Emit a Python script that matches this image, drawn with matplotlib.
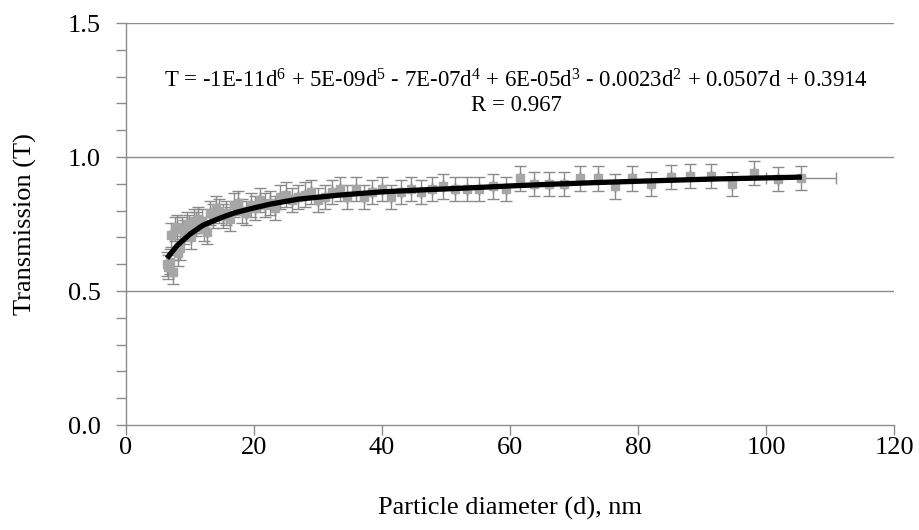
import matplotlib
matplotlib.use("Agg")
import matplotlib.pyplot as plt
from matplotlib.ticker import MultipleLocator

plt.rcParams['font.family'] = ['Liberation Serif', 'DejaVu Serif']
plt.rcParams['mathtext.fontset'] = 'custom'
plt.rcParams['mathtext.rm'] = 'Liberation Serif'
plt.rcParams['mathtext.it'] = 'Liberation Serif:italic'

# Measured data (particle diameter, nm) and transmission
diameter = [6.38, 6.61, 6.85, 7.09, 7.37, 7.64, 7.91, 8.20, 8.51, 8.82, 9.14, 9.47,
            9.82, 10.2, 10.6, 10.9, 11.3, 11.8, 12.2, 12.6, 13.1, 13.6, 14.1, 14.6,
            15.1, 15.7, 16.3, 16.8, 17.5, 18.1, 18.8, 19.5, 20.2, 20.9, 21.7, 22.5,
            23.3, 24.1, 25.0, 25.9, 26.9, 27.9, 28.9, 30.0, 31.1, 32.2, 33.4, 34.6,
            35.9, 37.2, 38.5, 40.0, 41.4, 42.9, 44.5, 46.1, 47.8, 49.6, 51.4, 53.3,
            55.2, 57.3, 59.4, 61.5, 63.8, 66.1, 68.5, 71.0, 73.7, 76.4, 79.1, 82.0,
            85.1, 88.2, 91.4, 94.7, 98.2, 101.8, 105.5]
transmission = [0.60, 0.59, 0.61, 0.71, 0.57, 0.73, 0.74, 0.64, 0.66, 0.73, 0.72, 0.75,
                0.74, 0.70, 0.76, 0.75, 0.77, 0.76, 0.73, 0.72, 0.79, 0.78, 0.81, 0.80,
                0.78, 0.79, 0.77, 0.82, 0.83, 0.80, 0.79, 0.82, 0.81, 0.84, 0.82, 0.83,
                0.81, 0.85, 0.86, 0.84, 0.85, 0.86, 0.87, 0.84, 0.85, 0.87, 0.88, 0.85,
                0.88, 0.85, 0.87, 0.88, 0.85, 0.87, 0.88, 0.87, 0.88, 0.89, 0.88, 0.88,
                0.88, 0.89, 0.88, 0.92, 0.90, 0.90, 0.90, 0.92, 0.92, 0.89, 0.92, 0.90,
                0.925, 0.93, 0.93, 0.90, 0.94, 0.918, 0.923]
t_err = [0.045] * len(diameter)
d_err = [0.0] * (len(diameter) - 1) + [5.5]

# Polynomial trendline
fit_d = [6.4, 8.0, 10.0, 12.0, 14.7, 17.0, 20.0, 22.5, 27.0, 33.4, 40.0, 47.0,
         53.0, 60.0, 66.0, 74.0, 82.0, 92.0, 100.0, 105.6]
fit_t = [0.622, 0.670, 0.712, 0.745, 0.772, 0.792, 0.810, 0.824, 0.843, 0.858,
         0.870, 0.878, 0.884, 0.892, 0.898, 0.905, 0.911, 0.918, 0.922, 0.925]

x_ticks = [0, 20, 40, 60, 80, 100, 120]
y_ticks = [0.0, 0.5, 1.0, 1.5]
equation = ("T = -1E-11d$^{6}$ + 5E-09d$^{5}$ - 7E-07d$^{4}$ + 6E-05d$^{3}$ "
            "- 0.0023d$^{2}$ + 0.0507d + 0.3914\nR = 0.967")

fig = plt.figure(figsize=(9.19, 5.30), dpi=100)
ax = fig.add_axes([126/919, 1 - 425/530, (894 - 126)/919, (425 - 23)/530])

grid_c = '#8c8c8c'
for yv in y_ticks[1:]:
    ax.axhline(yv, color=grid_c, lw=1.0, zorder=0)

ax.errorbar(diameter, transmission, yerr=t_err, xerr=d_err, fmt='s',
            color='#a6a6a6', ms=6, mec='#a6a6a6', ecolor='#8a8a8a',
            elinewidth=1.0, capsize=4, capthick=1.0, zorder=2)
ax.plot(fit_d, fit_t, color='black', lw=3.8, solid_capstyle='butt', zorder=3)

ax.set_xlim(0, 120)
ax.set_ylim(0, 1.5)
ax.set_xticks(x_ticks)
ax.set_yticks(y_ticks)
ax.set_yticklabels([f"{v:.1f}" for v in y_ticks])
ax.yaxis.set_minor_locator(MultipleLocator(0.1))

for s in ['top', 'right']:
    ax.spines[s].set_visible(False)
for s in ['left', 'bottom']:
    ax.spines[s].set_color(grid_c)
    ax.spines[s].set_linewidth(1.0)

ax.tick_params(axis='both', which='both', direction='out', color=grid_c,
               width=1.0, labelsize=19)
ax.tick_params(axis='y', which='both', length=7, pad=11)
ax.tick_params(axis='x', which='major', length=7, pad=2)

ax.set_xlabel('Particle diameter (d), nm', fontsize=19, labelpad=27)
ax.set_ylabel('Transmission (T)', fontsize=19, labelpad=22)

ax.text(61, 1.24, equation, ha='center', va='center', fontsize=16.4,
        multialignment='center', linespacing=1.1, zorder=4)

fig.savefig('out.png', dpi=100)
